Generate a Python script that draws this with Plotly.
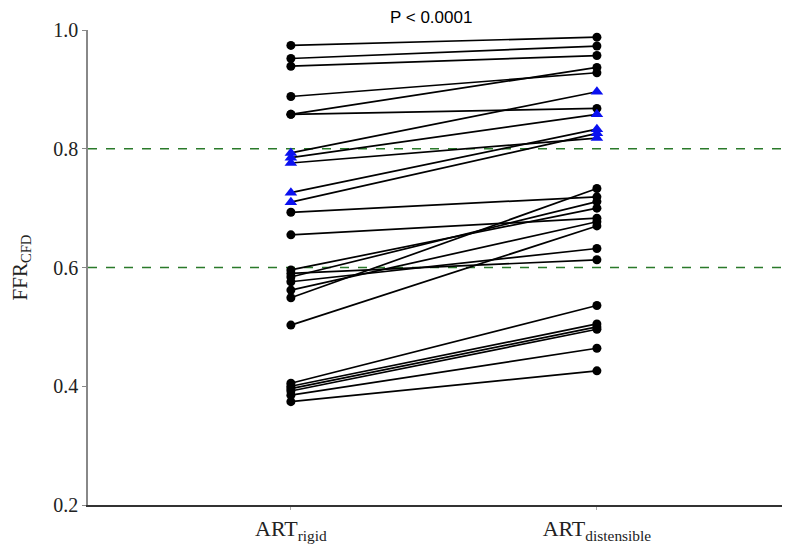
import plotly.graph_objects as go

# Paired FFR_CFD values (rigid -> distensible)
rigid_dots = [0.974, 0.952, 0.939, 0.888, 0.858, 0.858,
              0.693, 0.655, 0.596, 0.590, 0.584, 0.576, 0.562, 0.549, 0.503,
              0.405, 0.400, 0.396, 0.392, 0.385, 0.374]
dist_dots = [0.988, 0.973, 0.957, 0.928, 0.937, 0.868,
             0.719, 0.683, 0.700, 0.613, 0.711, 0.632, 0.677, 0.733, 0.670,
             0.536, 0.505, 0.500, 0.496, 0.464, 0.426]
rigid_tri = [0.793, 0.785, 0.776, 0.726, 0.710]
dist_tri = [0.896, 0.858, 0.818, 0.833, 0.826]

categories = [0, 1]
cat_labels = ["ART<sub>rigid</sub>", "ART<sub>distensible</sub>"]
y_ticks = [0.2, 0.4, 0.6, 0.8, 1.0]
y_ticklabels = ["0.2", "0.4", "0.6", "0.8", "1.0"]
ref_levels = [0.8, 0.6]
p_text = "P < 0.0001"

XR = [-0.663, 1.631]

fig = go.Figure()

for lv in ref_levels:
    fig.add_trace(go.Scatter(x=XR, y=[lv, lv], mode="lines",
                             line=dict(color="#2a7a2a", width=1.5, dash="dash"),
                             hoverinfo="skip", showlegend=False))

for a, b in zip(rigid_dots, dist_dots):
    fig.add_trace(go.Scatter(x=categories, y=[a, b], mode="lines+markers",
                             line=dict(color="black", width=1.7),
                             marker=dict(color="black", size=9, symbol="circle"),
                             showlegend=False, cliponaxis=False))

for a, b in zip(rigid_tri, dist_tri):
    fig.add_trace(go.Scatter(x=categories, y=[a, b], mode="lines",
                             line=dict(color="black", width=1.7),
                             showlegend=False, cliponaxis=False))
for a, b in zip(rigid_tri, dist_tri):
    fig.add_trace(go.Scatter(x=categories, y=[a, b], mode="markers",
                             marker=dict(color="#0a10f0", size=11, symbol="triangle-up"),
                             showlegend=False, cliponaxis=False))

fig.add_annotation(x=0.457, xref="x", y=1.026, yref="paper", text=p_text,
                   showarrow=False, yanchor="middle", xanchor="center", borderpad=0,
                   font=dict(family="Liberation Sans, Arial", size=17, color="black"))

fig.update_layout(
    width=782, height=540,
    margin=dict(l=80, r=0, t=22, b=43),
    paper_bgcolor="white", plot_bgcolor="white",
    showlegend=False,
)
fig.update_xaxes(range=XR, tickvals=categories, ticktext=cat_labels,
                 showgrid=False, zeroline=False, showline=True, linecolor="#333",
                 linewidth=1.5, ticks="outside", ticklen=3, tickcolor="#aaa",
                 tickfont=dict(family="Liberation Serif, Times New Roman", size=22, color="#222"))
fig.update_yaxes(range=[0.2, 1.0], tickvals=y_ticks, ticktext=y_ticklabels,
                 showgrid=False, zeroline=False, showline=True, linecolor="#888",
                 linewidth=1.5, ticks="outside", ticklen=4, tickcolor="#888",
                 tickfont=dict(family="Liberation Serif, Times New Roman", size=20, color="#222"),
                 title=dict(text="FFR<sub>CFD</sub>", standoff=20,
                            font=dict(family="Liberation Serif, Times New Roman", size=21, color="#222")))

fig.write_html("out.html")
